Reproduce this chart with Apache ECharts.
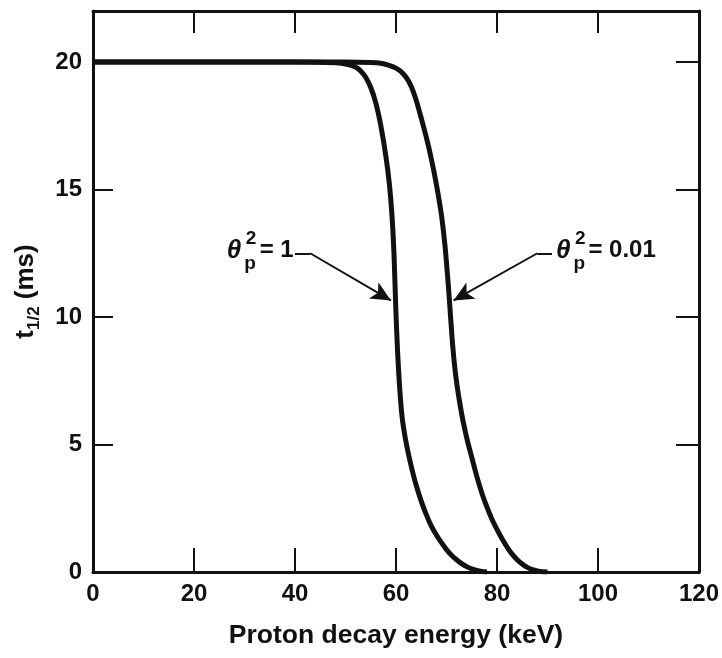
<!DOCTYPE html>
<html><head><meta charset="utf-8">
<script src="https://cdn.jsdelivr.net/npm/echarts@6/dist/echarts.min.js"></script>
<style>html,body{margin:0;padding:0;background:#fff}#c{width:722px;height:658px}</style>
</head><body><div id="c"></div>
<script>
// Data
const xTicks = [0, 20, 40, 60, 80, 100, 120];
const yTicks = [0, 5, 10, 15, 20];
// theta_p^2 = 1
const energyA = [0, 20, 40, 48, 50.5, 52, 53, 54, 55, 56, 57, 58, 58.7, 59.2, 59.6, 59.95, 60.3, 60.7, 61.2, 61.8, 62.5, 63.2, 64, 65, 66, 67, 68, 69, 70, 71, 72, 73, 74, 75, 76, 77, 78];
const tHalfA  = [20, 20, 20, 19.97, 19.9, 19.8, 19.65, 19.4, 19.0, 18.4, 17.5, 16.3, 15.2, 14.0, 12.5, 10.4, 8.7, 7.3, 6.1, 5.3, 4.6, 4.0, 3.4, 2.78, 2.25, 1.8, 1.45, 1.15, 0.88, 0.66, 0.48, 0.33, 0.21, 0.12, 0.06, 0.02, 0];
// theta_p^2 = 0.01
const energyB = [0, 20, 40, 50, 55, 57, 58.5, 60, 61, 62, 63, 64, 65, 66, 67, 68, 69, 69.7, 70.2, 70.6, 71.1, 71.6, 72.1, 72.7, 73.4, 74.2, 75, 76, 77, 78, 79, 80, 81, 82, 83, 84, 85, 86, 87, 88, 89, 90];
const tHalfB  = [20, 20, 20, 20, 19.98, 19.95, 19.88, 19.76, 19.62, 19.4, 19.05, 18.5, 17.8, 17.05, 16.2, 15.2, 14.0, 12.8, 11.65, 10.6, 9.2, 8.1, 7.3, 6.55, 5.8, 5.1, 4.5, 3.75, 3.1, 2.55, 2.07, 1.67, 1.3, 0.98, 0.7, 0.48, 0.31, 0.18, 0.09, 0.04, 0.01, 0];
const labelA = '= 1';
const labelB = '= 0.01';

const ink = '#111';
const FONT = 'Liberation Sans';
const pairs = (xs, ys) => xs.map((x, i) => [x, ys[i]]);

function annot(thetaAt, supAt, subAt, textAt, text) {
  const base = {fontFamily: FONT, fontWeight: 'bold', color: ink};
  return [
    {coord: thetaAt, label: Object.assign({}, base, {formatter: 'θ', fontStyle: 'italic', fontSize: 26, position: 'inside'})},
    {coord: supAt, label: Object.assign({}, base, {formatter: '2', fontSize: 19, position: 'inside'})},
    {coord: subAt, label: Object.assign({}, base, {formatter: 'p', fontSize: 19, position: 'inside'})},
    {coord: textAt, label: Object.assign({}, base, {formatter: text, fontSize: 24, position: 'right', distance: 0})}
  ];
}
function leader(a, b, tip) {
  return [
    [{coord: a}, {coord: b}],
    [{coord: b}, {coord: tip, symbol: 'arrow', symbolSize: [14, 20]}]
  ];
}

const axisCommon = {
  type: 'value', min: 0,
  axisLine: {show: true, onZero: false, lineStyle: {color: ink, width: 3}},
  splitLine: {show: false},
  axisTick: {show: true, inside: true, lineStyle: {color: ink, width: 2}},
  axisLabel: {color: ink, fontFamily: FONT, fontWeight: 'bold', fontSize: 24}
};

const chart = echarts.init(document.getElementById('c'));
chart.setOption({
  animation: false,
  backgroundColor: '#fff',
  grid: {left: 93, right: 18, top: 11, bottom: 86, containLabel: false},
  xAxis: [
    Object.assign({}, axisCommon, {
      max: 120, interval: 20, position: 'bottom',
      axisTick: Object.assign({}, axisCommon.axisTick, {length: 24}),
      axisLabel: Object.assign({}, axisCommon.axisLabel, {margin: 10, customValues: xTicks}),
      name: 'Proton decay energy (keV)', nameLocation: 'middle', nameGap: 50,
      nameTextStyle: {color: ink, fontFamily: FONT, fontWeight: 'bold', fontSize: 26.5}
    }),
    Object.assign({}, axisCommon, {
      max: 120, interval: 20, position: 'top',
      axisTick: Object.assign({}, axisCommon.axisTick, {length: 22}),
      axisLabel: {show: false}
    })
  ],
  yAxis: [
    Object.assign({}, axisCommon, {
      max: 22, interval: 5, position: 'left',
      axisTick: Object.assign({}, axisCommon.axisTick, {length: 20, customValues: yTicks}),
      axisLabel: Object.assign({}, axisCommon.axisLabel, {margin: 11, customValues: yTicks,
        formatter: v => (v % 5 === 0 ? String(v) : '')}),
      name: 't{sub|1/2} (ms)', nameLocation: 'middle', nameGap: 50,
      nameTextStyle: {color: ink, fontFamily: FONT, fontWeight: 'bold', fontSize: 26, lineHeight: 34,
        rich: {sub: {color: ink, fontFamily: FONT, fontWeight: 'bold', fontSize: 17, lineHeight: 17, verticalAlign: 'bottom'}}}
    }),
    Object.assign({}, axisCommon, {
      max: 22, interval: 5, position: 'right',
      axisTick: Object.assign({}, axisCommon.axisTick, {length: 23, customValues: yTicks}),
      axisLabel: {show: false}
    })
  ],
  series: [
    {
      name: 'θp² = 1', type: 'line', data: pairs(energyA, tHalfA),
      showSymbol: false, smooth: 0.25,
      lineStyle: {color: ink, width: 5}, silent: true,
      markPoint: {symbol: 'circle', symbolSize: 0, silent: true,
        data: annot([27.9, 12.6], [31.3, 13.05], [31.1, 12.1], [33.0, 12.6], labelA)},
      markLine: {silent: true, symbol: ['none', 'none'], label: {show: false},
        lineStyle: {color: ink, width: 2, type: 'solid'},
        data: leader([40.0, 12.5], [43.0, 12.5], [59.0, 10.65])}
    },
    {
      name: 'θp² = 0.01', type: 'line', data: pairs(energyB, tHalfB),
      showSymbol: false, smooth: 0.25,
      lineStyle: {color: ink, width: 5}, silent: true,
      markPoint: {symbol: 'circle', symbolSize: 0, silent: true,
        data: annot([93.1, 12.6], [96.5, 13.05], [96.3, 12.1], [98.1, 12.6], labelB)},
      markLine: {silent: true, symbol: ['none', 'none'], label: {show: false},
        lineStyle: {color: ink, width: 2, type: 'solid'},
        data: leader([90.9, 12.5], [88.0, 12.5], [71.4, 10.65])}
    }
  ]
});
</script>
</body></html>
